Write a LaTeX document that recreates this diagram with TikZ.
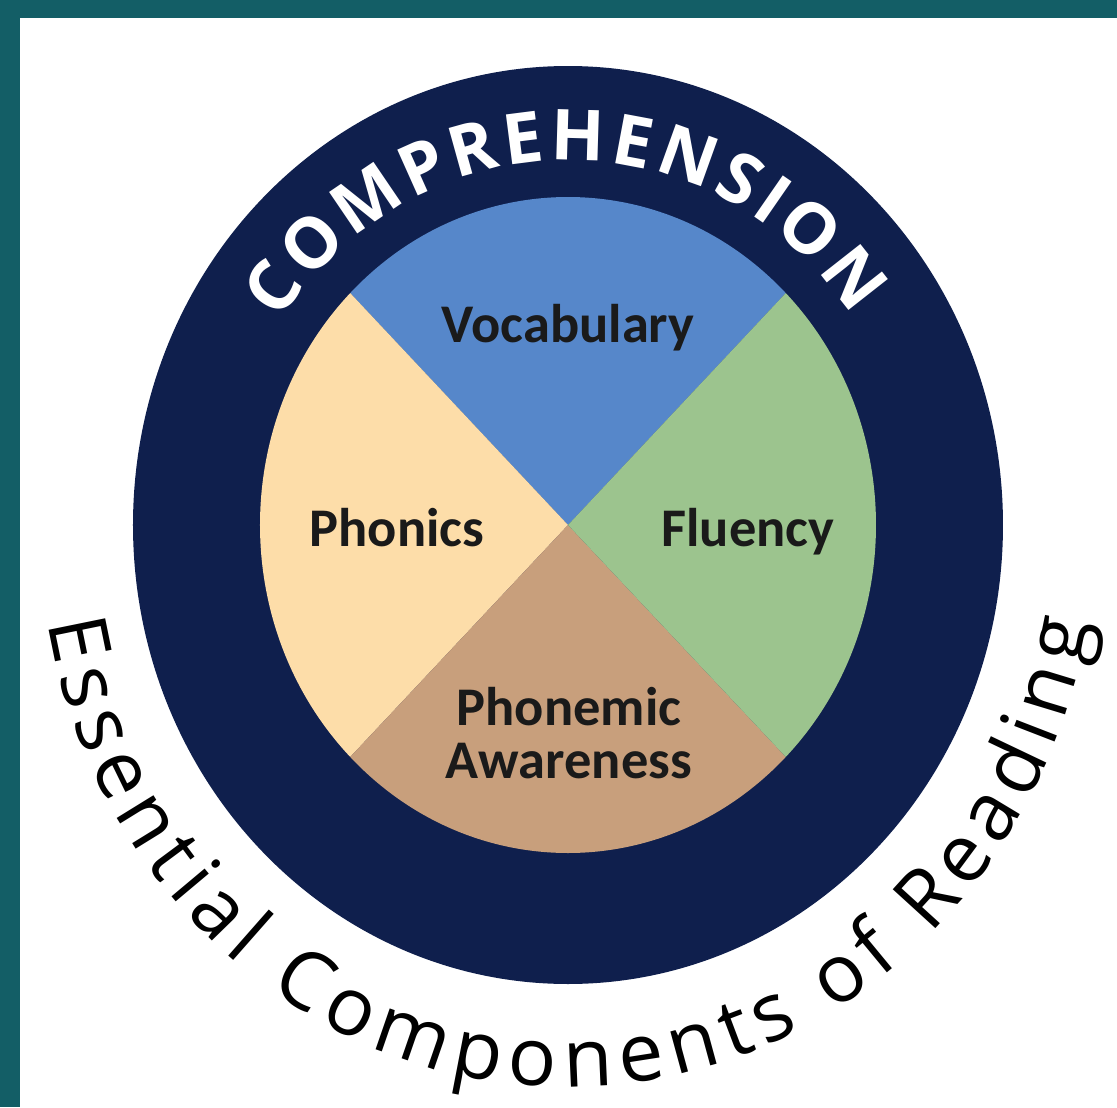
\documentclass[tikz,border=0pt]{standalone}
\usepackage{fontspec}
\usetikzlibrary{decorations.text}
\newfontfamily\labelfont{Carlito}
\newfontfamily\ringfont{Open Sans}
\newcommand\comprfont{\ringfont\bfseries\fontsize{40}{46}\selectfont}
\newcommand\titlefont{\ringfont\fontsize{46}{52}\selectfont}
\definecolor{frameteal}{HTML}{135E66}
\definecolor{ringnavy}{HTML}{0F1F4D}
\definecolor{vocblue}{HTML}{5687CA}
\definecolor{flugreen}{HTML}{9CC48E}
\definecolor{phontan}{HTML}{C89F7C}
\definecolor{phopeach}{HTML}{FDDDA9}
\definecolor{labelink}{HTML}{1A1A1A}

\begin{document}
\begin{tikzpicture}[x=0.02cm, y=0.02cm,
        part/.style={font=\labelfont\bfseries\fontsize{31}{30}\selectfont, text=labelink, align=center, inner sep=0pt},
        slice/.style={draw=none}]
        \useasboundingbox (-568,-582) rectangle (549,525);
        \fill[frameteal] (-568,-582) rectangle (549,525);
        \fill[white] (-548,-582) rectangle (549,507);
        \fill[ringnavy] (0,0) ellipse [x radius=435, y radius=459];
        \fill[slice, vocblue] (0,0) -- (45:308 and 328) arc [start angle=45, end angle=135, x radius=308, y radius=328] -- cycle;
        \fill[slice, phopeach] (0,0) -- (135:308 and 328) arc [start angle=135, end angle=225, x radius=308, y radius=328] -- cycle;
        \fill[slice, phontan] (0,0) -- (225:308 and 328) arc [start angle=225, end angle=315, x radius=308, y radius=328] -- cycle;
        \fill[slice, flugreen] (0,0) -- (-45:308 and 328) arc [start angle=-45, end angle=45, x radius=308, y radius=328] -- cycle;
        \path[decorate, decoration={text along path, text align={fit to path}, text color=white,
                text={|\comprfont|COMPREHENSION}}]
                (146:347 and 365) arc [start angle=146, end angle=35, x radius=347, y radius=365];
        \path[decorate, decoration={text along path, text align={fit to path}, text color=black,
                text={|\titlefont|Essential Components of Reading}}]
                (190:528 and 562) arc [start angle=190, end angle=350, x radius=528, y radius=562];
        \node[part, anchor=base] (vocab) at (0,183) {Vocabulary};
        \node[part, anchor=base] (phonics) at (-171,-21) {Phonics};
        \node[part, anchor=base] (fluency) at (180,-21) {Fluency};
        \node[part] (phonemic) at (1,-208) {Phonemic\\Awareness};
\end{tikzpicture}
\end{document}
